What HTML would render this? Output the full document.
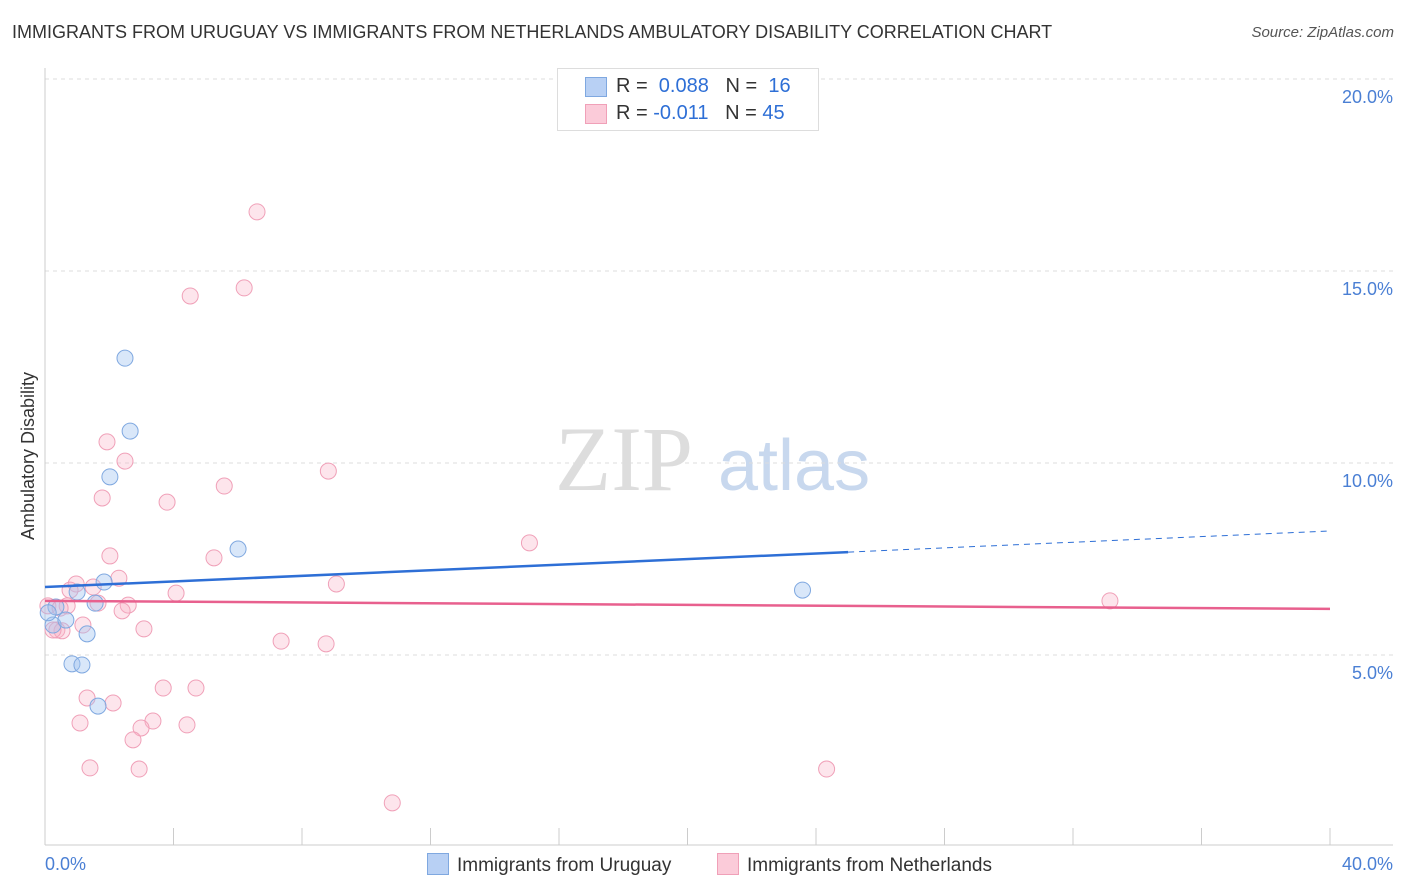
<!DOCTYPE html>
<html><head><meta charset="utf-8"><style>
body{margin:0;background:#fff;font-family:"Liberation Sans",sans-serif;}
#wrap{position:relative;width:1406px;height:892px;overflow:hidden;}
.t{position:absolute;white-space:nowrap;}
</style></head><body>
<div id="wrap">
<div class="t" style="left:12px;top:22px;font-size:18px;color:#333;">IMMIGRANTS FROM URUGUAY VS IMMIGRANTS FROM NETHERLANDS AMBULATORY DISABILITY CORRELATION CHART</div>
<div class="t" style="right:12px;top:24px;font-size:15px;color:#555;font-style:italic;">Source: ZipAtlas.com</div>
<svg id="svg" width="1406" height="892" style="position:absolute;left:0;top:0"></svg>
</div>
<script>
const uruguayX=[0.34,0.25,0.65,1.0,1.31,0.84,1.15,1.56,1.84,2.02,1.65,2.49,2.65,6.01,23.58,0.1];
const uruguayY=[6.25,5.78,5.91,6.64,5.55,4.77,4.74,6.35,6.9,9.64,3.67,12.73,10.83,7.76,6.69,6.1];
const nethX=[6.6,4.52,6.2,1.93,2.49,8.82,5.58,1.78,3.8,15.08,2.02,5.26,2.3,0.97,1.5,0.78,4.08,9.07,1.65,2.59,2.4,0.69,0.09,0.37,0.53,0.25,1.18,3.08,7.35,8.75,33.15,1.31,2.12,3.68,4.7,1.09,3.36,4.42,2.99,2.74,1.4,2.93,24.33,10.81,0.47];
const nethY=[16.54,14.35,14.56,10.55,10.05,9.79,9.4,9.09,8.98,7.92,7.58,7.53,7.0,6.85,6.77,6.69,6.61,6.85,6.35,6.3,6.15,6.28,6.28,5.65,5.63,5.65,5.78,5.68,5.36,5.29,6.41,3.88,3.75,4.14,4.14,3.23,3.28,3.18,3.1,2.79,2.06,2.03,2.03,1.15,6.22];
const yTicks=[5,10,15,20];
const yTickLabels=["5.0%","10.0%","15.0%","20.0%"];
const uruguayTrend=[6.77,7.68,8.23]; // at x=0, 25, 40
const nethTrend=[6.41,6.2];
const xTickLabels=["0.0%","40.0%"];
const xs=v=>45+v*(1285/40);
const ys=v=>847-v*38.4;
const svg=document.getElementById('svg');
const NS='http://www.w3.org/2000/svg';
function mk(tag,attrs){const e=document.createElementNS(NS,tag);for(const k in attrs)e.setAttribute(k,attrs[k]);svg.appendChild(e);return e;}
// watermark
let w=mk('text',{x:555,y:490,'font-size':92,fill:'#ddd','font-family':'Liberation Serif,serif'});w.textContent='ZIP';


let w2=mk('text',{x:718,y:490,'font-size':72,fill:'#c8d8ee','font-family':'Liberation Sans,sans-serif'});w2.textContent='atlas';


// grid
yTicks.forEach((v,i)=>{
 const g=mk('line',{x1:45,x2:1393,y1:ys(v),y2:ys(v),stroke:'#ddd','stroke-dasharray':'4,4'});
 
 
 const t=mk('text',{x:1393,y:ys(v)+24,'text-anchor':'end','font-size':18,fill:'#4a7fd4'});t.textContent=yTickLabels[i];
 
 
});
let ax=mk('line',{x1:45,x2:1393,y1:845,y2:845,stroke:'#ccc'});


let ay=mk('line',{x1:45,x2:45,y1:68,y2:845,stroke:'#ccc'});


for(let i=0;i<=10;i++){const tk=mk('line',{x1:xs(i*4),x2:xs(i*4),y1:828,y2:845,stroke:'#ccc'});

}
let xl=mk('text',{x:45,y:870,'font-size':18,fill:'#4a7fd4'});xl.textContent=xTickLabels[0];


let xr=mk('text',{x:1393,y:870,'font-size':18,fill:'#4a7fd4','text-anchor':'end'});xr.textContent=xTickLabels[1];


let yt=mk('text',{x:34,y:456,'font-size':18,fill:'#333','text-anchor':'middle',transform:'rotate(-90 34 456)'});yt.textContent='Ambulatory Disability';


// points
nethX.forEach((x,i)=>{const c=mk('circle',{cx:xs(x),cy:ys(nethY[i]),r:8,fill:'rgba(248,180,200,0.35)',stroke:'#f0a0b8','stroke-width':1});

});
uruguayX.forEach((x,i)=>{const c=mk('circle',{cx:xs(x),cy:ys(uruguayY[i]),r:8,fill:'rgba(160,195,240,0.4)',stroke:'#7fa8e0','stroke-width':1});

});
// trends
let l1=mk('line',{x1:xs(0),y1:ys(uruguayTrend[0]),x2:xs(25),y2:ys(uruguayTrend[1]),stroke:'#2e6fd6','stroke-width':2.5});


let l2=mk('line',{x1:xs(25),y1:ys(uruguayTrend[1]),x2:xs(40),y2:ys(uruguayTrend[2]),stroke:'#2e6fd6','stroke-width':1,'stroke-dasharray':'6,5'});


let l3=mk('line',{x1:xs(0),y1:ys(nethTrend[0]),x2:xs(40),y2:ys(nethTrend[1]),stroke:'#e8608e','stroke-width':2.5});


</script>
<div class="t" style="left:557px;top:68px;width:260px;height:61px;border:1px solid #ddd;background:#fff;font-size:20px;">
 <div style="position:absolute;left:27px;top:8px;width:20px;height:18px;background:#b8d0f4;border:1px solid #7fa8e0;"></div>
 <div style="position:absolute;left:58px;top:6px;color:#333;">R = <span style="color:#2e6fd6">&nbsp;0.088</span>&nbsp;&nbsp;&nbsp;N = &nbsp;<span style="color:#2e6fd6">16</span></div>
 <div style="position:absolute;left:27px;top:35px;width:20px;height:18px;background:#fbcbd9;border:1px solid #f0a0b8;"></div>
 <div style="position:absolute;left:58px;top:33px;color:#333;">R = <span style="color:#2e6fd6">-0.011</span>&nbsp;&nbsp;&nbsp;N = <span style="color:#2e6fd6">45</span></div>
</div>
<div class="t" style="left:427px;top:853px;font-size:19px;color:#333;">
 <span style="display:inline-block;width:20px;height:20px;background:#b8d0f4;border:1px solid #7fa8e0;vertical-align:-4px;margin-right:8px;"></span>Immigrants from Uruguay</div>
<div class="t" style="left:717px;top:853px;font-size:19px;color:#333;">
 <span style="display:inline-block;width:20px;height:20px;background:#fbcbd9;border:1px solid #f0a0b8;vertical-align:-4px;margin-right:8px;"></span>Immigrants from Netherlands</div>
</body></html>
